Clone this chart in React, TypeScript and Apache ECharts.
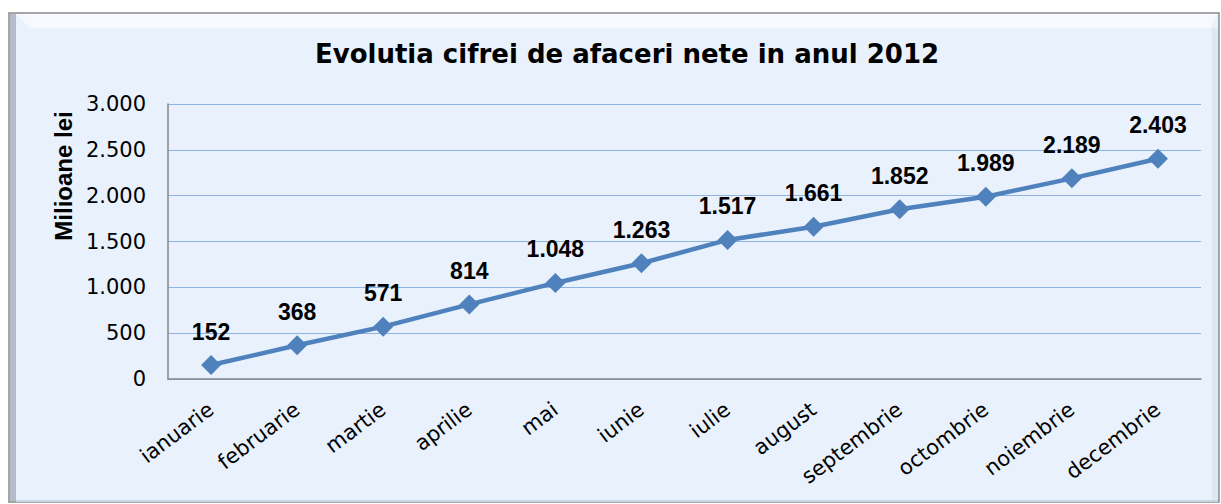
import React, { useEffect, useRef } from "react";
import * as echarts from "echarts";

const months = ["ianuarie", "februarie", "martie", "aprilie", "mai", "iunie", "iulie", "august", "septembrie", "octombrie", "noiembrie", "decembrie"];
const values = [152, 368, 571, 814, 1048, 1263, 1517, 1661, 1852, 1989, 2189, 2403];
const yTicks = [0, 500, 1000, 1500, 2000, 2500, 3000];

const fmt = (v: number) => String(v).replace(/\B(?=(\d{3})+(?!\d))/g, ".");

export default function App() {
  const ref = useRef<HTMLDivElement>(null);
  useEffect(() => {
    const chart = echarts.init(ref.current!, null, { renderer: "svg" });
    chart.setOption({
      animation: false,
      backgroundColor: "#ffffff",
      graphic: [
        { type: "rect", z: -10, shape: { x: 9, y: 13, width: 1210, height: 489 }, style: { fill: "#e8f1fc", stroke: "#8a8a8a", lineWidth: 1.5 } },
        { type: "rect", z: -9, shape: { x: 10, y: 14, width: 6, height: 487 }, style: { fill: "#b4bcc8" } },
        { type: "polygon", z: -9, shape: { points: [[16, 14], [1218, 14], [1210, 28], [30, 28]] }, style: { fill: "#f6f9fe" } },
        { type: "rect", z: -9, shape: { x: 1212, y: 28, width: 6, height: 473 }, style: { fill: "#dfe7f1" } },
        { type: "line", z: -8, shape: { x1: 16, y1: 501, x2: 1218, y2: 501 }, style: { stroke: "#c9d4e2", lineWidth: 2 } },
        {
          type: "text",
          x: 63, y: 176,
          rotation: Math.PI / 2,
          style: { text: "Milioane lei", font: "bold 24px 'Liberation Sans', Arial", fill: "#000", align: "center", verticalAlign: "middle" },
        },
      ],
      title: {
        text: "Evolutia cifrei de afaceri nete in anul 2012",
        left: 622, top: 36, textAlign: "center",
        textStyle: { fontFamily: "'DejaVu Sans'", fontWeight: "bold", fontSize: 26, color: "#000" },
      },
      grid: { left: 168, right: 20, top: 104, bottom: 125, containLabel: false },
      xAxis: {
        type: "category",
        data: months,
        boundaryGap: true,
        axisLine: { lineStyle: { color: "#868686", width: 1.5 } },
        axisTick: { show: false },
        axisLabel: { rotate: 37, fontFamily: "'DejaVu Sans'", fontSize: 21, color: "#000", margin: 28, interval: 0 },
      },
      yAxis: {
        type: "value",
        min: 0, max: 3000, interval: 500,
        axisLine: { show: true, lineStyle: { color: "#868686", width: 1.5 } },
        axisTick: { show: false },
        splitLine: { lineStyle: { color: "#8db3e2", width: 1.2 } },
        axisLabel: {
          fontFamily: "'DejaVu Sans'", fontSize: 21, color: "#000", margin: 22,
          formatter: (v: number) => (yTicks.includes(v) ? fmt(v) : ""),
        },
      },
      series: [
        {
          type: "line",
          data: values,
          symbol: "diamond",
          symbolSize: 20,
          lineStyle: { color: "#4f81bd", width: 4.5 },
          itemStyle: { color: "#4f81bd" },
          label: {
            show: true, position: "top", distance: 12,
            formatter: (p: any) => fmt(p.value),
            fontFamily: "'Liberation Sans', Arial", fontWeight: "bold", fontSize: 23, color: "#000",
          },
        },
      ],
    });
    return () => chart.dispose();
  }, []);
  return <div ref={ref} style={{ position: "fixed", left: 0, top: 0, width: 1221, height: 504 }} />;
}
